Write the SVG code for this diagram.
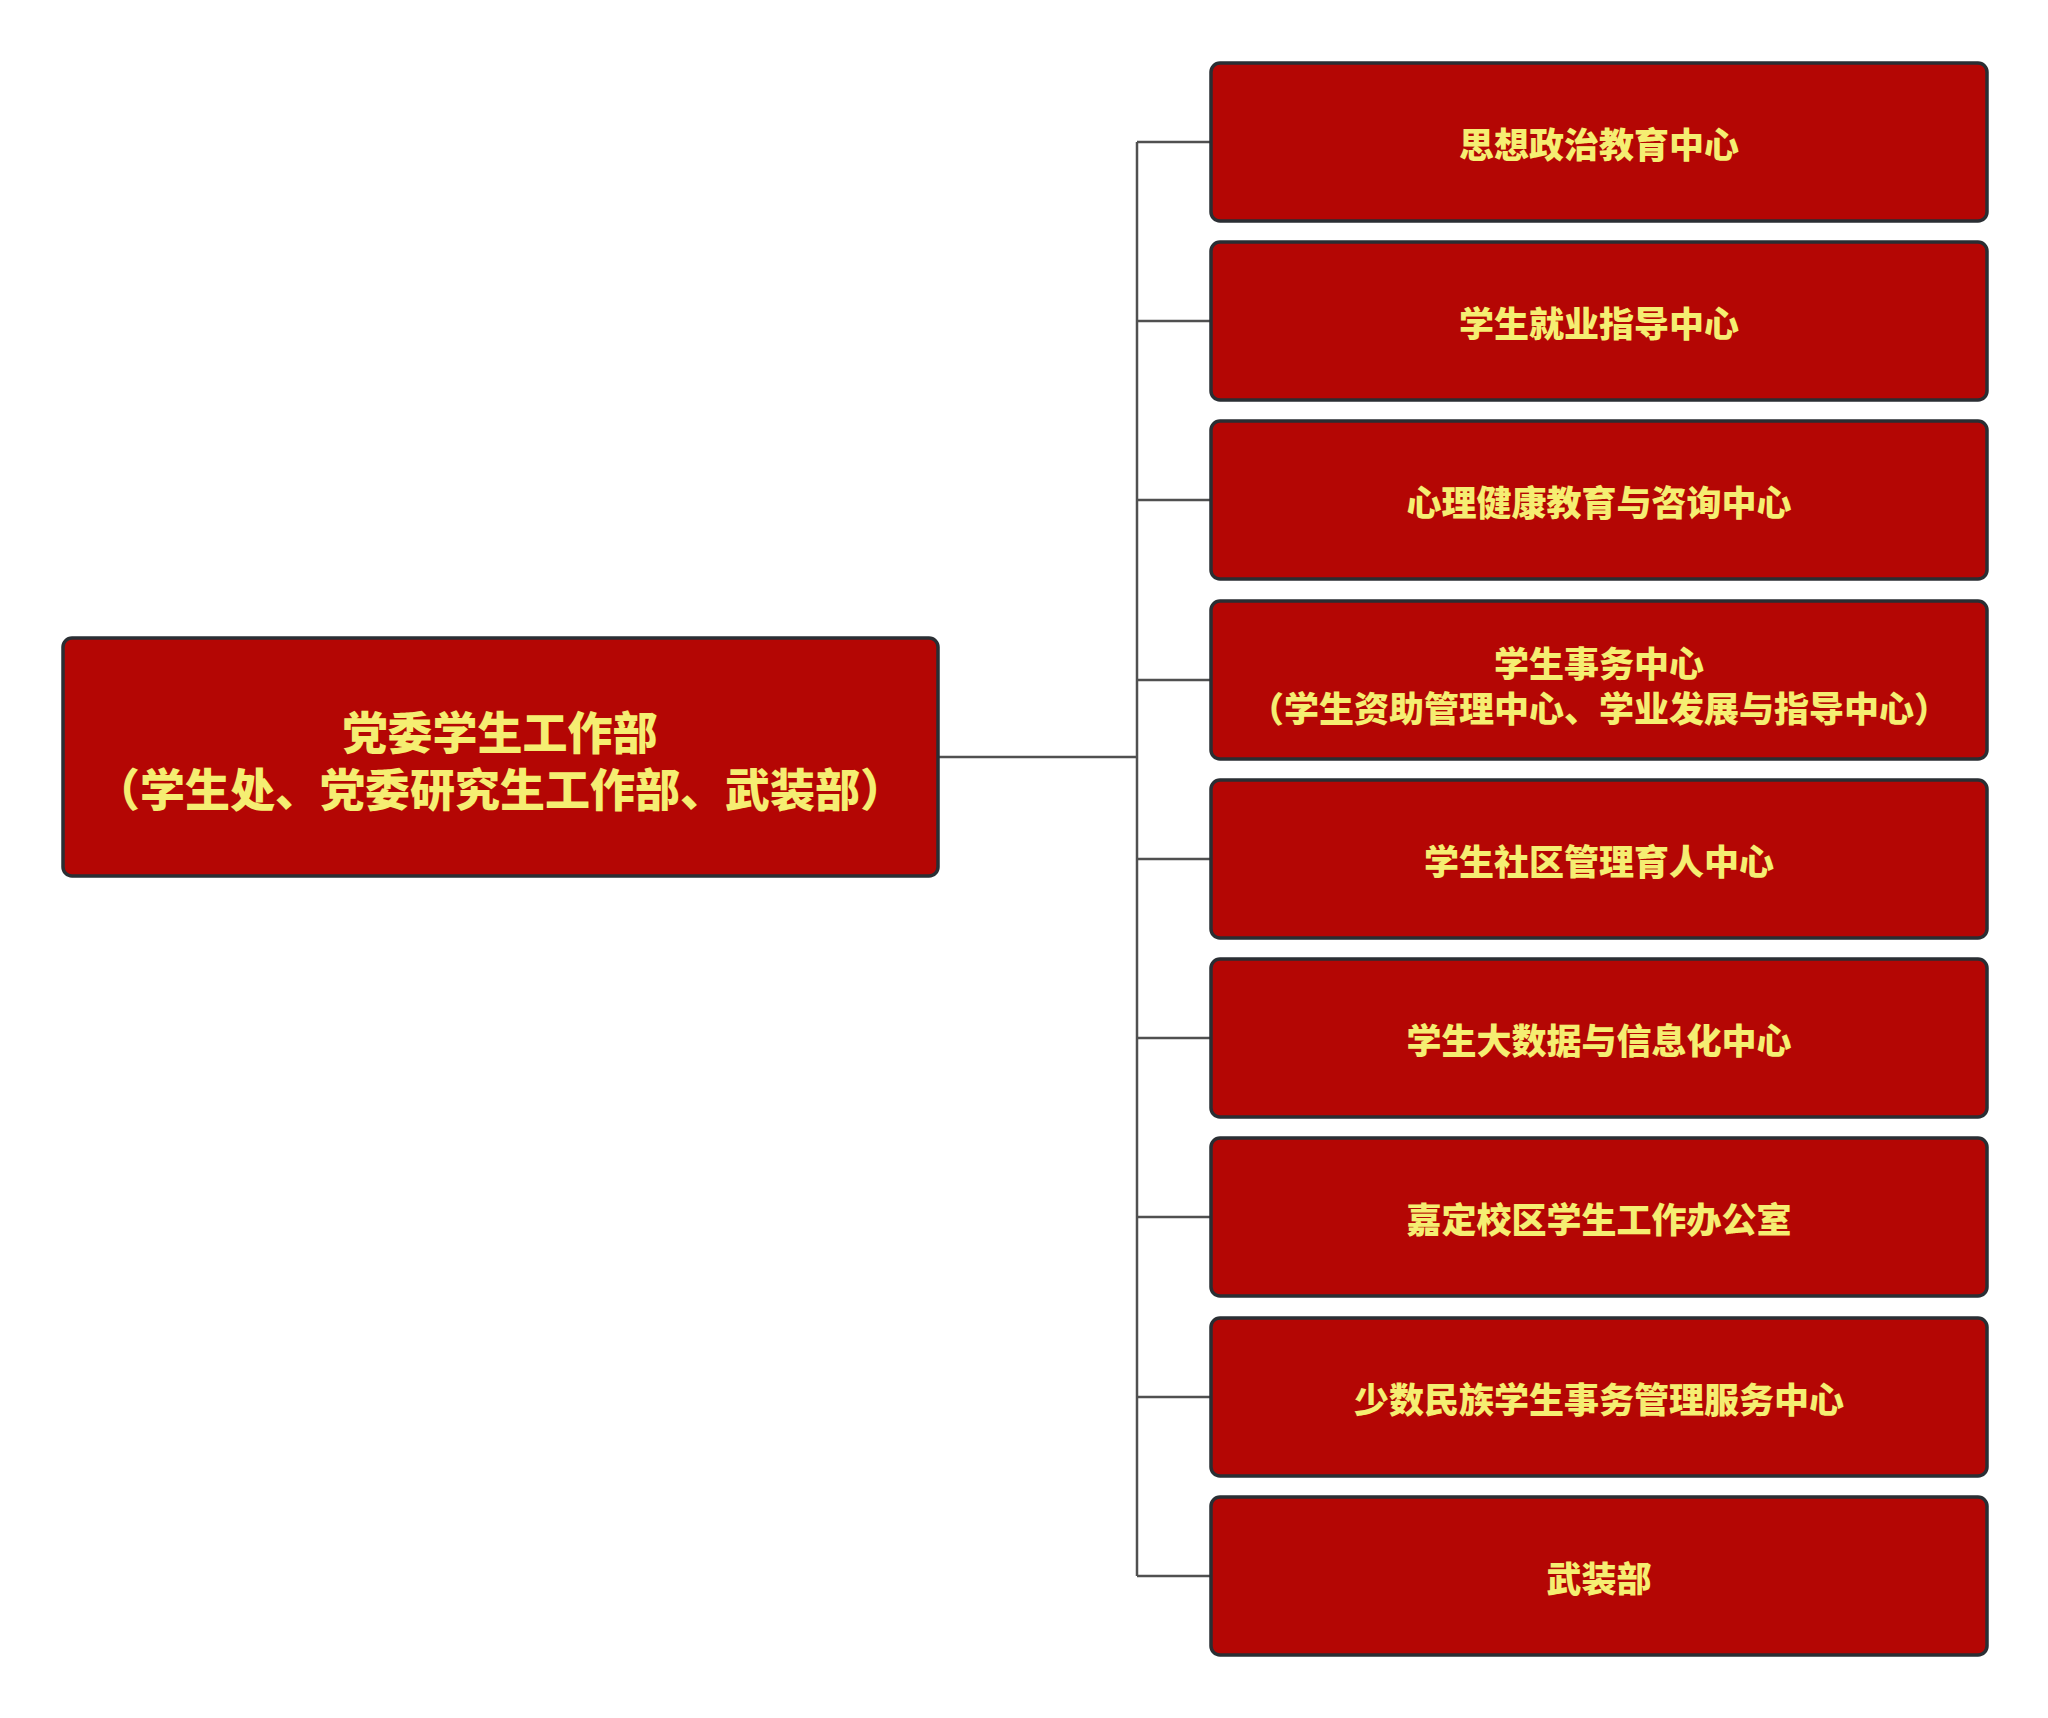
<svg xmlns="http://www.w3.org/2000/svg" width="2048" height="1718" viewBox="0 0 2048 1718">
<style>
.box{fill:#B40604;stroke:#2A2E33;stroke-width:3.5}
.t{fill:#F5EE72;font-family:"Noto Sans CJK SC","Noto Sans CJK JP",sans-serif;font-weight:900;text-anchor:middle;dominant-baseline:central}
.s{font-size:35px}
.m{font-size:45px}
.c{fill:none;stroke:#505050;stroke-width:2.5}
</style>
<rect width="2048" height="1718" fill="#FFFFFF"/>
<g id="connectors">
<path class="c" d="M938 757H1137M1137 142V1576M1137 142H1211M1137 321H1211M1137 500H1211M1137 680H1211M1137 859H1211M1137 1038H1211M1137 1217H1211M1137 1397H1211M1137 1576H1211"/>
</g>
<g id="root">
<rect class="box" x="63" y="638" width="875" height="238" rx="9"/>
<text class="t m" x="500" y="730">党委学生工作部</text>
<text class="t m" x="500" y="787">（学生处、党委研究生工作部、武装部）</text>
</g>
<g id="n1"><rect class="box" x="1211" y="63" width="776" height="158" rx="9"/><text class="t s" x="1599" y="142">思想政治教育中心</text></g>
<g id="n2"><rect class="box" x="1211" y="242" width="776" height="158" rx="9"/><text class="t s" x="1599" y="321">学生就业指导中心</text></g>
<g id="n3"><rect class="box" x="1211" y="421" width="776" height="158" rx="9"/><text class="t s" x="1599" y="500">心理健康教育与咨询中心</text></g>
<g id="n4"><rect class="box" x="1211" y="601" width="776" height="158" rx="9"/><text class="t s" x="1599" y="661">学生事务中心</text><text class="t s" x="1599" y="706">（学生资助管理中心、学业发展与指导中心）</text></g>
<g id="n5"><rect class="box" x="1211" y="780" width="776" height="158" rx="9"/><text class="t s" x="1599" y="859">学生社区管理育人中心</text></g>
<g id="n6"><rect class="box" x="1211" y="959" width="776" height="158" rx="9"/><text class="t s" x="1599" y="1038">学生大数据与信息化中心</text></g>
<g id="n7"><rect class="box" x="1211" y="1138" width="776" height="158" rx="9"/><text class="t s" x="1599" y="1217">嘉定校区学生工作办公室</text></g>
<g id="n8"><rect class="box" x="1211" y="1318" width="776" height="158" rx="9"/><text class="t s" x="1599" y="1397">少数民族学生事务管理服务中心</text></g>
<g id="n9"><rect class="box" x="1211" y="1497" width="776" height="158" rx="9"/><text class="t s" x="1599" y="1576">武装部</text></g>
</svg>
